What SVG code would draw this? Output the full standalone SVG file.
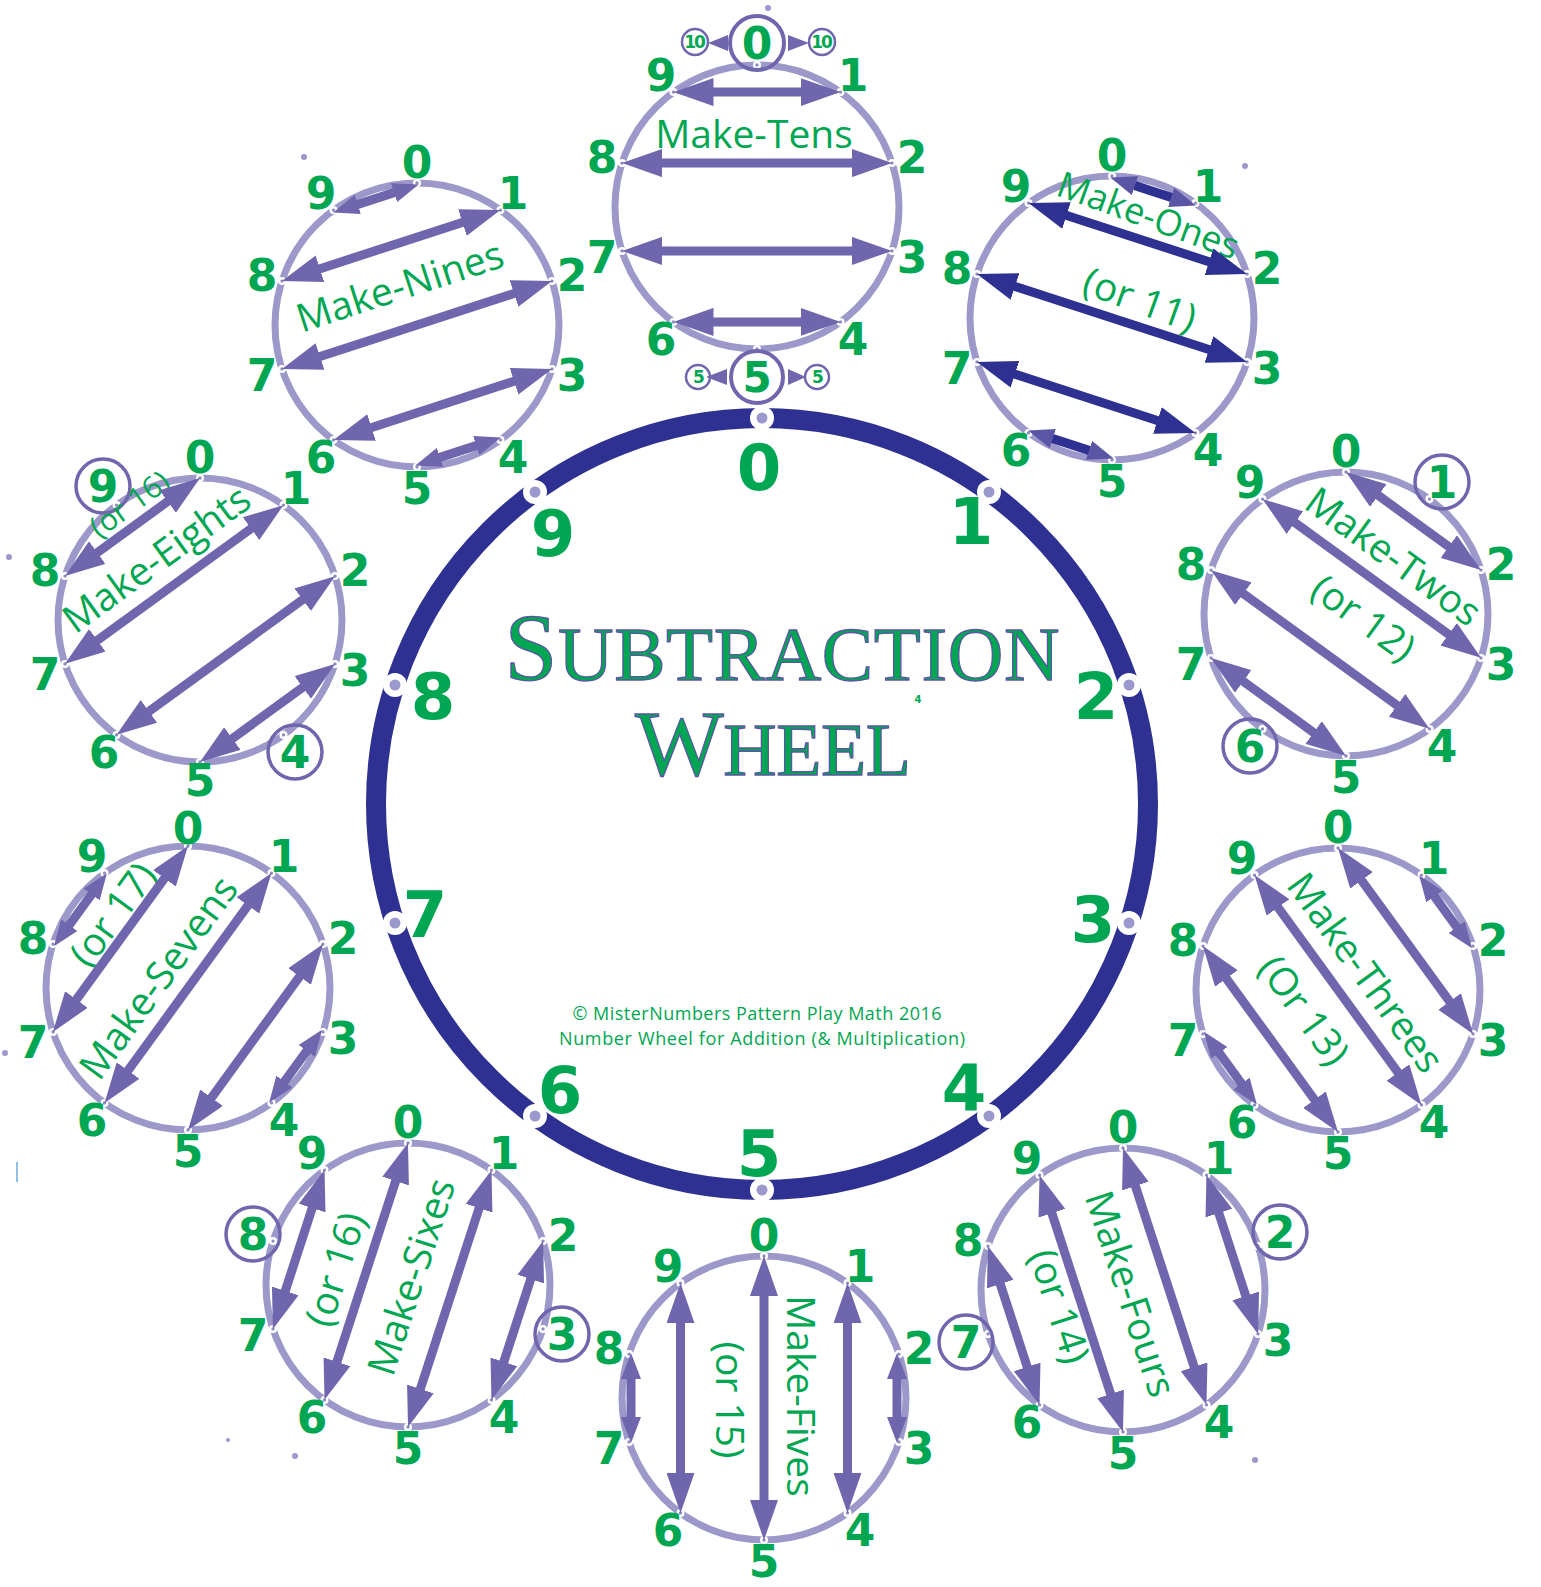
<svg xmlns="http://www.w3.org/2000/svg" xmlns:xlink="http://www.w3.org/1999/xlink" width="1541" height="1587" viewBox="0 0 1541 1587">
<style>
.ring{fill:none;stroke:#9d98ca;stroke-width:7}
.num{font-family:"DejaVu Sans","Liberation Sans",sans-serif;font-weight:bold;font-size:44px;fill:#00a651;text-anchor:middle}
.big{font-size:64px}
.tiny{font-size:17px;letter-spacing:-2px}
.lbl{font-family:"Open Sans","Noto Sans",sans-serif;font-size:39px;fill:#00a651;text-anchor:middle}
.cc{fill:none;stroke:#6f66ae;stroke-width:3.5}
.cs{fill:none;stroke:#6f66ae;stroke-width:2.5}
.ar{fill:none;stroke:#6f66ae;stroke-width:9;marker-start:url(#ah);marker-end:url(#ah)}
.ar.s{marker-start:url(#ahs);marker-end:url(#ahs)}
.nv .ar{stroke:#2e3192;marker-start:url(#ahn);marker-end:url(#ahn)}
.nv .ar.s{marker-start:url(#ahns);marker-end:url(#ahns)}
.tri{fill:#6f66ae}
.stray{fill:#9d98ca}
.copy{font-family:"Open Sans","Noto Sans",sans-serif;font-size:18px;fill:#00a651;text-anchor:middle}
.title{font-family:"Liberation Serif",serif;fill:#00a651;stroke:#5b55a5;stroke-width:1.3;text-anchor:middle}
</style>
<defs>
<marker id="ah" markerUnits="userSpaceOnUse" markerWidth="40" markerHeight="28" viewBox="0 -14 40 28" refX="20" refY="0" orient="auto-start-reverse"><path d="M0,-14 L40,0 L0,14 Z" fill="#6f66ae"/></marker>
<marker id="ahs" markerUnits="userSpaceOnUse" markerWidth="26" markerHeight="20" viewBox="0 -10 26 20" refX="13" refY="0" orient="auto-start-reverse"><path d="M0,-10 L26,0 L0,10 Z" fill="#6f66ae"/></marker>
<marker id="ahn" markerUnits="userSpaceOnUse" markerWidth="40" markerHeight="28" viewBox="0 -14 40 28" refX="20" refY="0" orient="auto-start-reverse"><path d="M0,-14 L40,0 L0,14 Z" fill="#2e3192"/></marker>
<marker id="ahns" markerUnits="userSpaceOnUse" markerWidth="26" markerHeight="20" viewBox="0 -10 26 20" refX="13" refY="0" orient="auto-start-reverse"><path d="M0,-10 L26,0 L0,10 Z" fill="#5b55a5"/></marker>
<g id="pt"><circle r="4" fill="#fff"/><circle r="1.7" fill="#8f8cc4"/></g>
<g id="pts">
<use href="#pt" x="0" y="-142"/><use href="#pt" x="83.5" y="-114.9"/><use href="#pt" x="135" y="-43.9"/><use href="#pt" x="135" y="43.9"/><use href="#pt" x="83.5" y="114.9"/>
<use href="#pt" x="0" y="142"/><use href="#pt" x="-83.5" y="114.9"/><use href="#pt" x="-135" y="43.9"/><use href="#pt" x="-135" y="-43.9"/><use href="#pt" x="-83.5" y="-114.9"/>
</g>
<g id="mdot"><circle r="12" fill="#fff"/><circle r="5.5" fill="#9a98cc"/></g>
</defs>
<rect width="1541" height="1587" fill="#fff"/>

<g id="main-wheel">
<circle cx="762" cy="804" r="386" fill="none" stroke="#2e3192" stroke-width="20"/>
<use href="#mdot" x="762" y="418"/><use href="#mdot" x="989" y="492"/><use href="#mdot" x="1129" y="685"/><use href="#mdot" x="1129" y="923"/><use href="#mdot" x="989" y="1116"/>
<use href="#mdot" x="762" y="1190"/><use href="#mdot" x="535" y="1116"/><use href="#mdot" x="395" y="923"/><use href="#mdot" x="395" y="685"/><use href="#mdot" x="535" y="492"/>
<text class="num big" x="759" y="490">0</text>
<text class="num big" x="971" y="544">1</text>
<text class="num big" x="1096" y="719">2</text>
<text class="num big" x="1093" y="942">3</text>
<text class="num big" x="964" y="1111">4</text>
<text class="num big" x="759" y="1176">5</text>
<text class="num big" x="560" y="1113">6</text>
<text class="num big" x="425" y="937">7</text>
<text class="num big" x="433" y="719">8</text>
<text class="num big" x="553" y="556">9</text>
<text class="title" x="782" y="680" textLength="555"><tspan font-size="95">S</tspan><tspan font-size="77">UBTRACTION</tspan></text>
<text class="title" x="773" y="775" textLength="276"><tspan font-size="94">W</tspan><tspan font-size="74">HEEL</tspan></text>
<text x="918" y="703" font-family="DejaVu Sans,sans-serif" font-weight="bold" font-size="10" fill="#00a651" text-anchor="middle">4</text>
<text class="copy" x="757" y="1020" textLength="369">© MisterNumbers Pattern Play Math 2016</text>
<text class="copy" x="762" y="1045" textLength="406">Number Wheel for Addition (&amp; Multiplication)</text>
</g>

<g id="wheel-tens">
<circle class="ring" cx="757" cy="207" r="142"/>
<use href="#pts" transform="translate(757,207)"/>
<circle class="cc" cx="757" cy="43" r="27" style="stroke-width:4"/>
<text class="num" x="757" y="59">0</text>
<circle class="cs" cx="695" cy="42" r="13"/><text class="num tiny" x="694" y="48">10</text>
<circle class="cs" cx="822" cy="42" r="13"/><text class="num tiny" x="821" y="48">10</text>
<polygon class="tri" points="708,43 728,35 728,51"/>
<polygon class="tri" points="788,35 788,51 809,43"/>
<circle class="cc" cx="757" cy="377" r="26" style="stroke-width:4"/>
<text class="num" x="757" y="392" style="font-size:42px">5</text>
<circle class="cs" cx="698" cy="377" r="12"/><text class="num tiny" x="698" y="383">5</text>
<circle class="cs" cx="817" cy="377" r="12"/><text class="num tiny" x="817" y="383">5</text>
<polygon class="tri" points="706,377 727,369 727,385"/>
<polygon class="tri" points="788,369 788,385 806,377"/>
<text class="num" x="853" y="91">1</text><text class="num" x="912" y="173">2</text><text class="num" x="912" y="273">3</text><text class="num" x="853" y="355">4</text>
<text class="num" x="661" y="355">6</text><text class="num" x="602" y="273">7</text><text class="num" x="602" y="173">8</text><text class="num" x="661" y="91">9</text>
<text class="lbl" transform="translate(754,134)" y="14">Make-Tens</text>
</g>

<g id="wheel-nines">
<circle class="ring" cx="417" cy="325" r="142"/>
<use href="#pts" transform="translate(417,325)"/>
<text class="num" x="417" y="178">0</text><text class="num" x="513" y="209">1</text><text class="num" x="572" y="291">2</text><text class="num" x="572" y="391">3</text><text class="num" x="513" y="473">4</text>
<text class="num" x="417" y="504">5</text><text class="num" x="321" y="473">6</text><text class="num" x="262" y="391">7</text><text class="num" x="262" y="291">8</text><text class="num" x="321" y="209">9</text>
<text class="lbl" transform="translate(400,287) rotate(-18)" y="13">Make-Nines</text>
</g>

<g id="wheel-ones">
<circle class="ring" cx="1112" cy="318" r="142"/>
<use href="#pts" transform="translate(1112,318)"/>
<text class="num" x="1112" y="171">0</text><text class="num" x="1208" y="202">1</text><text class="num" x="1267" y="284">2</text><text class="num" x="1267" y="384">3</text><text class="num" x="1208" y="466">4</text>
<text class="num" x="1112" y="497">5</text><text class="num" x="1016" y="466">6</text><text class="num" x="957" y="384">7</text><text class="num" x="957" y="284">8</text><text class="num" x="1016" y="202">9</text>
<text class="lbl" transform="translate(1148,216) rotate(20)" y="12" style="font-size:36px">Make-Ones</text>
<text class="lbl" transform="translate(1139,302) rotate(20)" y="11">(or 11)</text>
</g>

<g id="wheel-twos">
<circle class="ring" cx="1346" cy="614" r="142"/>
<use href="#pts" transform="translate(1346,614)"/>
<circle class="cc" cx="1442" cy="482" r="27"/><circle class="cc" cx="1250" cy="746" r="27"/>
<text class="num" x="1346" y="467">0</text><text class="num" x="1442" y="498">1</text><text class="num" x="1501" y="580">2</text><text class="num" x="1501" y="680">3</text><text class="num" x="1442" y="762">4</text>
<text class="num" x="1346" y="793">5</text><text class="num" x="1250" y="762">6</text><text class="num" x="1191" y="680">7</text><text class="num" x="1191" y="580">8</text><text class="num" x="1250" y="498">9</text>
<text class="lbl" transform="translate(1393,557) rotate(36)" y="13">Make-Twos</text>
<text class="lbl" transform="translate(1362,620) rotate(36)" y="11">(or 12)</text>
</g>

<g id="wheel-threes">
<circle class="ring" cx="1338" cy="990" r="142"/>
<use href="#pts" transform="translate(1338,990)"/>
<text class="num" x="1338" y="843">0</text><text class="num" x="1434" y="874">1</text><text class="num" x="1493" y="956">2</text><text class="num" x="1493" y="1056">3</text><text class="num" x="1434" y="1138">4</text>
<text class="num" x="1338" y="1169">5</text><text class="num" x="1242" y="1138">6</text><text class="num" x="1183" y="1056">7</text><text class="num" x="1183" y="956">8</text><text class="num" x="1242" y="874">9</text>
<text class="lbl" transform="translate(1365,973) rotate(54)" y="13">Make-Threes</text>
<text class="lbl" transform="translate(1302,1012) rotate(54)" y="11">(Or 13)</text>
</g>

<g id="wheel-fours">
<circle class="ring" cx="1123" cy="1290" r="142"/>
<use href="#pts" transform="translate(1123,1290)"/>
<circle class="cc" cx="1280" cy="1232" r="27"/><circle class="cc" cx="966" cy="1342" r="27"/>
<text class="num" x="1123" y="1143">0</text><text class="num" x="1219" y="1174">1</text><text class="num" x="1280" y="1248">2</text><text class="num" x="1278" y="1356">3</text><text class="num" x="1219" y="1438">4</text>
<text class="num" x="1123" y="1469">5</text><text class="num" x="1027" y="1438">6</text><text class="num" x="966" y="1358">7</text><text class="num" x="968" y="1256">8</text><text class="num" x="1027" y="1174">9</text>
<text class="lbl" transform="translate(1130,1294) rotate(72)" y="13">Make-Fours</text>
<text class="lbl" transform="translate(1057,1307) rotate(72)" y="11">(or 14)</text>
</g>

<g id="wheel-fives">
<circle class="ring" cx="764" cy="1398" r="142"/>
<use href="#pts" transform="translate(764,1398)"/>
<text class="num" x="764" y="1251">0</text><text class="num" x="860" y="1282">1</text><text class="num" x="919" y="1364">2</text><text class="num" x="919" y="1464">3</text><text class="num" x="860" y="1546">4</text>
<text class="num" x="764" y="1577">5</text><text class="num" x="668" y="1546">6</text><text class="num" x="609" y="1464">7</text><text class="num" x="609" y="1364">8</text><text class="num" x="668" y="1282">9</text>
<text class="lbl" transform="translate(800,1396) rotate(90)" y="13">Make-Fives</text>
<text class="lbl" transform="translate(727,1400) rotate(90)" y="11">(or 15)</text>
</g>

<g id="wheel-sixes">
<circle class="ring" cx="408" cy="1285" r="142"/>
<use href="#pts" transform="translate(408,1285)"/>
<circle class="cc" cx="562" cy="1334" r="27"/><circle class="cc" cx="253" cy="1234" r="27"/>
<text class="num" x="408" y="1138">0</text><text class="num" x="504" y="1169">1</text><text class="num" x="563" y="1251">2</text><text class="num" x="562" y="1350">3</text><text class="num" x="504" y="1433">4</text>
<text class="num" x="408" y="1464">5</text><text class="num" x="312" y="1433">6</text><text class="num" x="253" y="1351">7</text><text class="num" x="253" y="1250">8</text><text class="num" x="312" y="1169">9</text>
<text class="lbl" transform="translate(412,1277) rotate(-72)" y="13">Make-Sixes</text>
<text class="lbl" transform="translate(338,1270) rotate(-72)" y="11">(or 16)</text>
</g>

<g id="wheel-sevens">
<circle class="ring" cx="188" cy="988" r="142"/>
<use href="#pts" transform="translate(188,988)"/>
<text class="num" x="188" y="844">0</text><text class="num" x="284" y="872">1</text><text class="num" x="343" y="954">2</text><text class="num" x="343" y="1054">3</text><text class="num" x="284" y="1136">4</text>
<text class="num" x="188" y="1167">5</text><text class="num" x="92" y="1136">6</text><text class="num" x="33" y="1058">7</text><text class="num" x="33" y="954">8</text><text class="num" x="92" y="872">9</text>
<text class="lbl" transform="translate(159,978) rotate(-54)" y="13">Make-Sevens</text>
<text class="lbl" transform="translate(115,916) rotate(-54)" y="11">(or 17)</text>
</g>

<g id="wheel-eights">
<circle class="ring" cx="200" cy="620" r="142"/>
<use href="#pts" transform="translate(200,620)"/>
<circle class="cc" cx="295" cy="752" r="27"/><circle class="cc" cx="103" cy="486" r="27"/>
<text class="num" x="200" y="473">0</text><text class="num" x="296" y="504">1</text><text class="num" x="355" y="586">2</text><text class="num" x="355" y="686">3</text><text class="num" x="295" y="768">4</text>
<text class="num" x="200" y="796">5</text><text class="num" x="104" y="768">6</text><text class="num" x="45" y="690">7</text><text class="num" x="45" y="586">8</text><text class="num" x="103" y="502">9</text>
<text class="lbl" transform="translate(158,561) rotate(-36)" y="11">Make-Eights</text>
<text class="lbl" transform="translate(131,506) rotate(-36)" y="8" style="font-size:30px">(or 16)</text>
</g>

<g id="connectors">
<g id="c-tens" transform="translate(757,207)">
<line class="ar" x1="-63.5" y1="-114.9" x2="63.5" y2="-114.9"/><line class="ar" x1="-115" y1="-43.9" x2="115" y2="-43.9"/><line class="ar" x1="-115" y1="43.9" x2="115" y2="43.9"/><line class="ar" x1="-63.5" y1="114.9" x2="63.5" y2="114.9"/>
</g>
<g id="c-nines" transform="translate(417,325) rotate(162)">
<line class="ar s" x1="-32" y1="-133" x2="32" y2="-133"/><line class="ar" x1="-94.9" y1="-83.5" x2="94.9" y2="-83.5"/><line class="ar" x1="-122" y1="0" x2="122" y2="0"/><line class="ar" x1="-94.9" y1="83.5" x2="94.9" y2="83.5"/><line class="ar s" x1="-32" y1="133" x2="32" y2="133"/>
</g>
<g id="c-ones" class="nv" transform="translate(1112,318) rotate(18)">
<line class="ar s" x1="-32" y1="-133" x2="32" y2="-133"/><line class="ar" x1="-94.9" y1="-83.5" x2="94.9" y2="-83.5"/><line class="ar" x1="-122" y1="0" x2="122" y2="0"/><line class="ar" x1="-94.9" y1="83.5" x2="94.9" y2="83.5"/><line class="ar s" x1="-32" y1="133" x2="32" y2="133"/>
</g>
<g id="c-twos" transform="translate(1346,614) rotate(36)">
<line class="ar" x1="-63.5" y1="-114.9" x2="63.5" y2="-114.9"/><line class="ar" x1="-115" y1="-43.9" x2="115" y2="-43.9"/><line class="ar" x1="-115" y1="43.9" x2="115" y2="43.9"/><line class="ar" x1="-63.5" y1="114.9" x2="63.5" y2="114.9"/>
</g>
<g id="c-threes" transform="translate(1338,990) rotate(54)">
<line class="ar s" x1="-32" y1="-133" x2="32" y2="-133"/><line class="ar" x1="-94.9" y1="-83.5" x2="94.9" y2="-83.5"/><line class="ar" x1="-122" y1="0" x2="122" y2="0"/><line class="ar" x1="-94.9" y1="83.5" x2="94.9" y2="83.5"/><line class="ar s" x1="-32" y1="133" x2="32" y2="133"/>
</g>
<g id="c-fours" transform="translate(1123,1290) rotate(72)">
<line class="ar" x1="-63.5" y1="-114.9" x2="63.5" y2="-114.9"/><line class="ar" x1="-115" y1="-43.9" x2="115" y2="-43.9"/><line class="ar" x1="-115" y1="43.9" x2="115" y2="43.9"/><line class="ar" x1="-63.5" y1="114.9" x2="63.5" y2="114.9"/>
</g>
<g id="c-fives" transform="translate(764,1398) rotate(90)">
<line class="ar s" x1="-32" y1="-133" x2="32" y2="-133"/><line class="ar" x1="-94.9" y1="-83.5" x2="94.9" y2="-83.5"/><line class="ar" x1="-122" y1="0" x2="122" y2="0"/><line class="ar" x1="-94.9" y1="83.5" x2="94.9" y2="83.5"/><line class="ar s" x1="-32" y1="133" x2="32" y2="133"/>
</g>
<g id="c-sixes" transform="translate(408,1285) rotate(108)">
<line class="ar" x1="-63.5" y1="-114.9" x2="63.5" y2="-114.9"/><line class="ar" x1="-115" y1="-43.9" x2="115" y2="-43.9"/><line class="ar" x1="-115" y1="43.9" x2="115" y2="43.9"/><line class="ar" x1="-63.5" y1="114.9" x2="63.5" y2="114.9"/>
</g>
<g id="c-sevens" transform="translate(188,988) rotate(126)">
<line class="ar s" x1="-32" y1="-133" x2="32" y2="-133"/><line class="ar" x1="-94.9" y1="-83.5" x2="94.9" y2="-83.5"/><line class="ar" x1="-122" y1="0" x2="122" y2="0"/><line class="ar" x1="-94.9" y1="83.5" x2="94.9" y2="83.5"/><line class="ar s" x1="-32" y1="133" x2="32" y2="133"/>
</g>
<g id="c-eights" transform="translate(200,620) rotate(144)">
<line class="ar" x1="-63.5" y1="-114.9" x2="63.5" y2="-114.9"/><line class="ar" x1="-115" y1="-43.9" x2="115" y2="-43.9"/><line class="ar" x1="-115" y1="43.9" x2="115" y2="43.9"/><line class="ar" x1="-63.5" y1="114.9" x2="63.5" y2="114.9"/>
</g>
</g>

<g id="specks">
<circle class="stray" cx="768" cy="8" r="3"/>
<circle class="stray" cx="304" cy="157" r="3"/>
<circle class="stray" cx="1245" cy="166" r="3"/>
<circle class="stray" cx="9" cy="557" r="3"/>
<circle class="stray" cx="5" cy="1053" r="3"/>
<circle class="stray" cx="228" cy="1440" r="2"/>
<circle class="stray" cx="295" cy="1456" r="3"/>
<circle class="stray" cx="1255" cy="1460" r="3"/>
<line x1="17" y1="1162" x2="17" y2="1182" stroke="#6fa8dc" stroke-width="1.5"/>
</g>
</svg>
